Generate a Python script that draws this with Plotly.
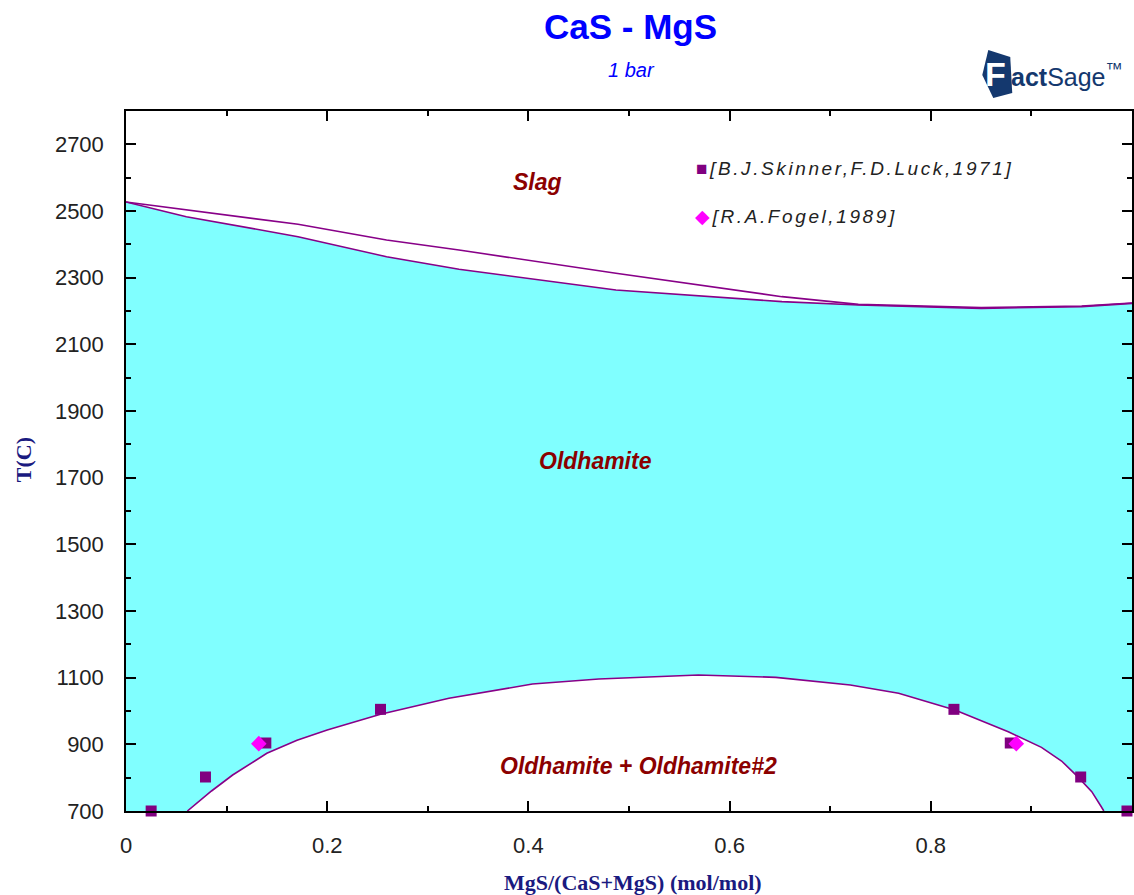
import plotly.graph_objects as go

# --- Phase boundaries (x = MgS/(CaS+MgS), T in C) ---
liquidus_x = [0.0, 0.06, 0.171, 0.259, 0.331, 0.487, 0.652, 0.728, 0.85, 0.95, 1.0]
liquidus_t = [2527, 2503, 2460, 2413, 2383, 2313, 2243, 2220, 2210, 2215, 2224]

solidus_x = [0.0, 0.06, 0.171, 0.259, 0.331, 0.487, 0.652, 0.728, 0.85, 0.95, 1.0]
solidus_t = [2527, 2483, 2423, 2363, 2325, 2263, 2228, 2218, 2208, 2213, 2223]

gap_x = [0.061, 0.085, 0.106, 0.140, 0.170, 0.200, 0.253, 0.321, 0.404, 0.470, 0.569,
         0.646, 0.72, 0.768, 0.824, 0.877, 0.910, 0.930, 0.946, 0.960, 0.969, 0.972]
gap_t = [700, 760, 808, 873, 912, 943, 990, 1038, 1081, 1096, 1108,
         1101, 1078, 1053, 1003, 938, 891, 850, 803, 758, 715, 700]

# --- Experimental points ---
skinner_x = [0.025, 0.079, 0.139, 0.253, 0.823, 0.879, 0.949, 0.995]
skinner_t = [700, 802, 904, 1005, 1005, 904, 802, 700]

fogel_x = [0.132, 0.885]
fogel_t = [902, 902]

# --- Axis ticks ---
x_ticks = [0.0, 0.2, 0.4, 0.6, 0.8]
x_tick_text = ["0", "0.2", "0.4", "0.6", "0.8"]
y_ticks = list(range(700, 2701, 200))
y_tick_text = [str(v) for v in y_ticks]

T_MIN, T_MAX = 700, 2800

W, H = 1134, 895
ML, MR, MT, MB = 126, 0, 111, 84
PW, PH = W - ML - MR, H - MT - MB


def px(xp):
    return (xp - ML) / PW


def py(yp):
    return (H - MB - yp) / PH


def label(text, x, y, font, **kw):
    d = dict(text=text, x=px(x), y=py(y), xref="paper", yref="paper", showarrow=False,
             xanchor="center", yanchor="middle", font=font)
    d.update(kw)
    return d


LINE = "#880088"
CYAN = "#80FFFF"
RED = "#8B0000"
NAVY = "#14386E"

fig = go.Figure()

# single-phase Oldhamite field: below the solidus, above the miscibility gap
fill_x = solidus_x + [1.0] + gap_x[::-1] + [0.0]
fill_t = solidus_t + [T_MIN] + gap_t[::-1] + [T_MIN]
fig.add_trace(go.Scatter(x=fill_x, y=fill_t, mode="lines", fill="toself",
                         fillcolor=CYAN, line=dict(width=0), hoverinfo="skip",
                         showlegend=False))

for xs, ts in [(liquidus_x, liquidus_t), (solidus_x, solidus_t), (gap_x, gap_t)]:
    fig.add_trace(go.Scatter(x=xs, y=ts, mode="lines",
                             line=dict(color=LINE, width=1.6), showlegend=False))

fig.add_trace(go.Scatter(x=skinner_x, y=skinner_t, mode="markers", cliponaxis=False,
                         marker=dict(symbol="square", size=11, color="#800080"),
                         showlegend=False))
fig.add_trace(go.Scatter(x=fogel_x, y=fogel_t, mode="markers", cliponaxis=False,
                         marker=dict(symbol="diamond", size=12, color="#FF00FF"),
                         showlegend=False))

axis_common = dict(showline=True, linecolor="black", linewidth=1.5, mirror="ticks",
                   ticks="inside", ticklen=10, tickwidth=1.5, tickcolor="black",
                   showgrid=False, zeroline=False,
                   tickfont=dict(family="Arial, Liberation Sans", size=22, color="#222222"))

fig.update_xaxes(range=[0, 1], tickvals=x_ticks, ticktext=x_tick_text,
                 ticklabelstandoff=14,
                 minor=dict(ticks="inside", ticklen=5, tickwidth=1.5, dtick=0.1,
                            tickcolor="black", showgrid=False),
                 **axis_common)
fig.update_yaxes(range=[T_MIN, T_MAX], tickvals=y_ticks, ticktext=y_tick_text,
                 ticklabelstandoff=16,
                 minor=dict(ticks="inside", ticklen=5, tickwidth=1.5, dtick=100,
                            tick0=700, tickcolor="black", showgrid=False),
                 **axis_common)

ann = []
# titles
ann.append(label("<b>CaS - MgS</b>", 632, 27,
                 dict(family="Arial, Liberation Sans", size=35, color="#0000FF")))
ann.append(label("<i>1 bar</i>", 633, 70,
                 dict(family="Arial, Liberation Sans", size=20, color="#0000FF")))
ann.append(label("<b>MgS/(CaS+MgS) (mol/mol)</b>", 634, 882,
                 dict(family="Times New Roman, Liberation Serif", size=22, color="#1a1a80")))
ann.append(label("<b>T(C)</b>", 23, 460,
                 dict(family="Times New Roman, Liberation Serif", size=22, color="#1a1a80"),
                 textangle=-90))

# phase field labels
lbl_font = dict(family="Arial, Liberation Sans", size=23, color=RED)
ann.append(label("<b><i>Slag</i></b>", 538, 182, lbl_font))
ann.append(label("<b><i>Oldhamite</i></b>", 596, 461, lbl_font))
ann.append(label("<b><i>Oldhamite + Oldhamite#2</i></b>", 640, 766, lbl_font))

# data source key
key_font = dict(family="Arial, Liberation Sans", size=19, color="#222222")
ann.append(label("<span style='color:#800080'>■</span><i>[B.J.Skinner,F.D.Luck,1971]</i>",
                 695, 168, key_font, xanchor="left", align="left"))
ann.append(label("<span style='color:#FF00FF'>◆</span><i>[R.A.Fogel,1989]</i>",
                 694, 216, key_font, xanchor="left", align="left"))

# FactSage logo
ann.append(label("<b>F</b>", 997, 74, dict(family="Arial, Liberation Sans", size=34,
                                             color="white")))
ann.append(label("<b>act</b>Sage<sup>™</sup>", 1011, 75,
                 dict(family="Liberation Sans Narrow, Arial Narrow, Arial", size=25, color=NAVY),
                 xanchor="left", align="left"))

shapes = [dict(type="path", xref="paper", yref="paper", layer="above",
               path=f"M {px(990)},{py(50)} L {px(1012)},{py(57)} L {px(1014)},{py(93)} "
                    f"L {px(995)},{py(98)} L {px(984)},{py(75)} Z",
               fillcolor=NAVY, line=dict(width=0))]

fig.update_layout(width=W, height=H, margin=dict(l=ML, r=MR, t=MT, b=MB),
                  paper_bgcolor="white", plot_bgcolor="white",
                  annotations=ann, shapes=shapes, showlegend=False)

# widen the letter spacing of the reference key entries
post = """
var gd = document.getElementById('{plot_id}');
function spaceKeys() {
  gd.querySelectorAll('.annotation-text').forEach(function (t) {
    if (t.textContent.indexOf('[') >= 0) { t.style.letterSpacing = '2.6px'; }
  });
}
spaceKeys();
gd.on('plotly_afterplot', spaceKeys);
"""

fig.write_html("out.html", post_script=post)
